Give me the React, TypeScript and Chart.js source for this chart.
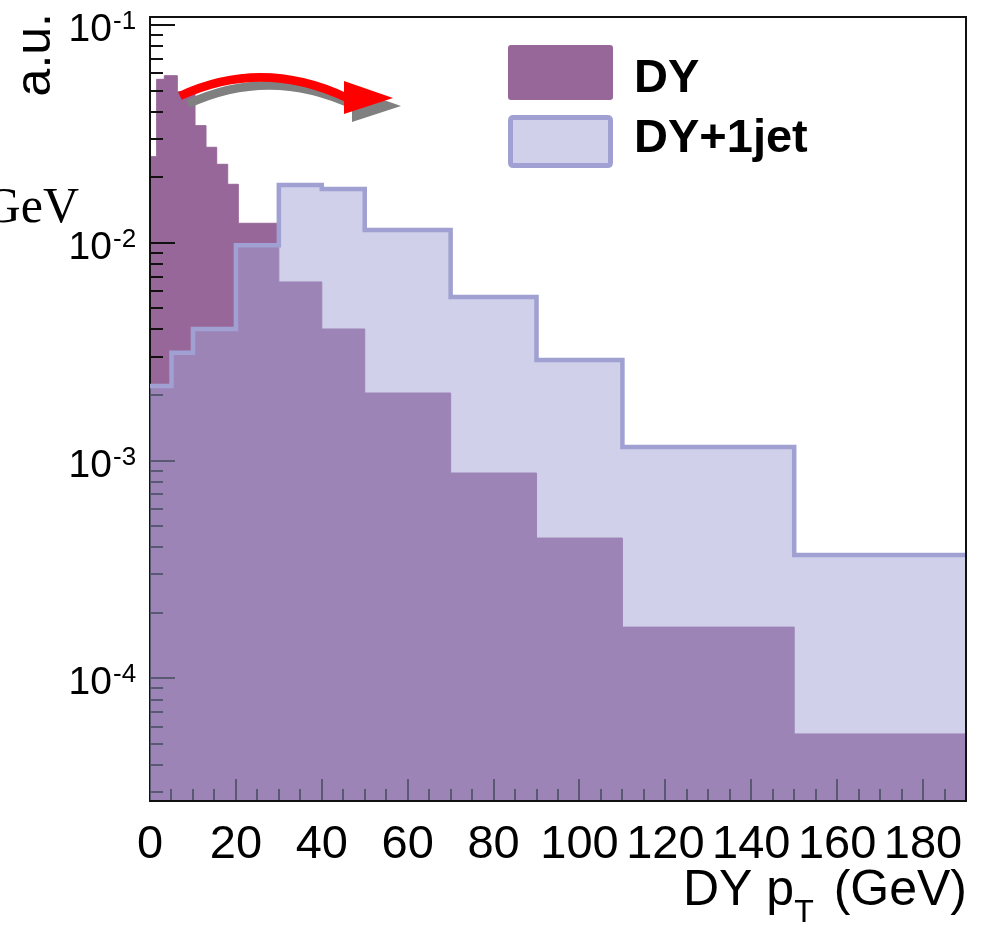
import React, { useEffect, useRef } from "react";
import { Chart, registerables } from "chart.js";

Chart.register(...registerables);

// ---------------- data ----------------
const SERIES_NAMES = ["DY", "DY+1jet"];

// DY histogram (variable bins, GeV)
const DY_BIN_EDGES = [0, 1.55, 3.33, 6.36, 10.48, 13.04, 15.53, 18.09, 20.56, 30, 40, 50, 70, 90, 110, 150, 190];
const DY_VALUES = [
  0.02485, 0.0563, 0.0585, 0.0494, 0.0345, 0.02745, 0.02293, 0.01856, 0.01229,
  0.00661, 0.00402, 0.002043, 0.000877, 0.000441, 0.000172, 0.0000556,
];

// DY+1jet histogram
const DY1J_BIN_EDGES = [0, 5, 10, 20, 30, 40, 50, 70, 90, 110, 150, 190];
const DY1J_VALUES = [0.0022, 0.00313, 0.00402, 0.00973, 0.01842, 0.01766, 0.01146, 0.00564, 0.0029, 0.001155, 0.000369];

const X_TICK_LABELS = [0, 20, 40, 60, 80, 100, 120, 140, 160, 180];
const Y_DECADE_EXPONENTS = [-1, -2, -3, -4];
const X_MIN = 0;
const X_MAX = 190;
const Y_MIN = 2.736e-5;
const Y_MAX = 0.1088;

const X_TITLE_MAIN = "DY p";
const X_TITLE_SUB = "T";
const X_TITLE_TAIL = "(GeV)";
const Y_TITLE = "a.u.";
const CUT_TEXT = "GeV";

// ---------------- style ----------------
const FONT = '"Liberation Sans", Arial, Helvetica, sans-serif';
const DY_COLOR = "#986799";
const LAVENDER = "#a0a0d2";
const LAVENDER_FILL = "rgba(162,162,214,0.5)";

function histPoints(edges: number[], values: number[]) {
  const pts = values.map((v, i) => ({ x: edges[i], y: v }));
  pts.push({ x: edges[edges.length - 1], y: values[values.length - 1] });
  return pts;
}

function roundRect(ctx: CanvasRenderingContext2D, x: number, y: number, w: number, h: number, r: number) {
  ctx.beginPath();
  ctx.moveTo(x + r, y);
  ctx.lineTo(x + w - r, y);
  ctx.quadraticCurveTo(x + w, y, x + w, y + r);
  ctx.lineTo(x + w, y + h - r);
  ctx.quadraticCurveTo(x + w, y + h, x + w - r, y + h);
  ctx.lineTo(x + r, y + h);
  ctx.quadraticCurveTo(x, y + h, x, y + h - r);
  ctx.lineTo(x, y + r);
  ctx.quadraticCurveTo(x, y, x + r, y);
  ctx.closePath();
}

function drawArrow(ctx: CanvasRenderingContext2D, dx: number, dy: number, color: string) {
  ctx.strokeStyle = color;
  ctx.fillStyle = color;
  ctx.lineWidth = 8.5;
  ctx.lineCap = "butt";
  ctx.beginPath();
  ctx.moveTo(180 + dx, 96 + dy);
  ctx.quadraticCurveTo(262 + dx, 58 + dy, 346 + dx, 97.5 + dy);
  ctx.stroke();
  ctx.beginPath();
  ctx.moveTo(344 + dx, 81 + dy);
  ctx.lineTo(393 + dx, 98 + dy);
  ctx.lineTo(344 + dx, 114 + dy);
  ctx.closePath();
  ctx.fill();
}

const rootPlugin = {
  id: "rootStyle",
  afterDatasetDraw(chart: any, args: any) {
    if (args.index !== 0) return;
    const { ctx, chartArea: a, scales } = chart;
    const xs = scales.x;
    const ys = scales.y;
    ctx.save();
    ctx.strokeStyle = "#111";
    ctx.lineWidth = 2;
    ctx.beginPath();
    const e0 = Math.floor(Math.log10(ys.min));
    const e1 = Math.ceil(Math.log10(ys.max));
    for (let e = e0; e <= e1; e++) {
      for (let m = 1; m <= 9; m++) {
        const v = m * Math.pow(10, e);
        if (v < ys.min || v > ys.max) continue;
        const p = Math.round(ys.getPixelForValue(v));
        const len = m === 1 ? 25 : 13;
        ctx.moveTo(a.left, p);
        ctx.lineTo(a.left + len, p);
      }
    }
    for (let v = X_MIN; v <= X_MAX; v += 5) {
      const p = Math.round(xs.getPixelForValue(v));
      const len = v % 20 === 0 ? 22 : 12;
      ctx.moveTo(p, a.bottom);
      ctx.lineTo(p, a.bottom - len);
    }
    // left axis line
    ctx.moveTo(a.left, a.top);
    ctx.lineTo(a.left, a.bottom);
    ctx.stroke();
    ctx.restore();
  },
  afterDraw(chart: any) {
    const { ctx, chartArea: a, scales } = chart;
    const ys = scales.y;
    ctx.save();
    // frame top/right/bottom
    ctx.strokeStyle = "#111";
    ctx.lineWidth = 2;
    ctx.beginPath();
    ctx.moveTo(a.left - 1, a.top);
    ctx.lineTo(a.right, a.top);
    ctx.lineTo(a.right, a.bottom);
    ctx.lineTo(a.left - 1, a.bottom);
    ctx.stroke();

    ctx.fillStyle = "#000";
    ctx.textBaseline = "alphabetic";
    // y tick labels 10^n
    for (const e of Y_DECADE_EXPONENTS) {
      const p = ys.getPixelForValue(Math.pow(10, e));
      ctx.font = `39px ${FONT}`;
      ctx.textAlign = "right";
      ctx.fillText("10", a.left - 38, p + 16);
      ctx.font = `26px ${FONT}`;
      ctx.textAlign = "left";
      ctx.fillText(String(e), a.left - 37, p + 4);
    }

    // x title with subscript
    const base = 905;
    ctx.textAlign = "left";
    ctx.font = `50px ${FONT}`;
    const w1 = ctx.measureText(X_TITLE_MAIN).width;
    ctx.fillText(X_TITLE_MAIN, 683, base);
    ctx.font = `32px ${FONT}`;
    ctx.fillText(X_TITLE_SUB, 683 + w1, base + 17);
    ctx.font = `50px ${FONT}`;
    ctx.textAlign = "right";
    ctx.fillText(X_TITLE_TAIL, a.right + 1, base);

    // y title
    ctx.save();
    ctx.translate(50, 13);
    ctx.rotate(-Math.PI / 2);
    ctx.font = `50px ${FONT}`;
    ctx.textAlign = "right";
    ctx.fillText(Y_TITLE, 0, 0);
    ctx.restore();

    // cut-off serif text at left
    ctx.font = `50px "Liberation Serif", "Times New Roman", serif`;
    ctx.textAlign = "right";
    ctx.fillText(CUT_TEXT, 79, 222);

    // legend
    const ds = chart.data.datasets;
    roundRect(ctx, 508, 45, 105, 55, 3);
    ctx.fillStyle = ds[0].backgroundColor;
    ctx.fill();
    roundRect(ctx, 510.5, 117.5, 100, 48, 3);
    ctx.fillStyle = ds[1].backgroundColor;
    ctx.fill();
    ctx.strokeStyle = ds[1].borderColor;
    ctx.lineWidth = 5;
    ctx.stroke();
    ctx.fillStyle = "#000";
    ctx.font = `bold 47px ${FONT}`;
    ctx.textAlign = "left";
    ctx.fillText(ds[0].label, 634, 92);
    ctx.fillText(ds[1].label, 634, 152);

    // arrow with shadow
    drawArrow(ctx, 8, 8, "#808080");
    drawArrow(ctx, 0, 0, "#ff0000");
    ctx.restore();
  },
};

export default function App() {
  const ref = useRef<HTMLCanvasElement>(null);
  useEffect(() => {
    const canvas = ref.current!;
    const chart = new Chart(canvas, {
      type: "line",
      data: {
        datasets: [
          {
            label: SERIES_NAMES[0],
            data: histPoints(DY_BIN_EDGES, DY_VALUES),
            stepped: true,
            fill: "start",
            backgroundColor: DY_COLOR,
            borderColor: DY_COLOR,
            borderWidth: 1,
            pointRadius: 0,
            order: 2,
          },
          {
            label: SERIES_NAMES[1],
            data: histPoints(DY1J_BIN_EDGES, DY1J_VALUES),
            stepped: true,
            fill: "start",
            backgroundColor: LAVENDER_FILL,
            borderColor: LAVENDER,
            borderWidth: 4.5,
            pointRadius: 0,
            order: 1,
          },
        ] as any,
      },
      options: {
        responsive: false,
        maintainAspectRatio: false,
        animation: false,
        devicePixelRatio: 1,
        layout: { padding: { top: 17, right: 15, left: 0, bottom: 0 } },
        plugins: { legend: { display: false }, tooltip: { enabled: false } },
        scales: {
          x: {
            type: "linear",
            min: X_MIN,
            max: X_MAX,
            grid: { display: false, drawTicks: false },
            border: { display: false },
            afterBuildTicks: (s: any) => {
              s.ticks = X_TICK_LABELS.map((v) => ({ value: v }));
            },
            ticks: {
              autoSkip: false,
              maxRotation: 0,
              minRotation: 0,
              includeBounds: false,
              padding: 16,
              color: "#000",
              font: { family: FONT, size: 47 },
            },
            afterFit: (s: any) => {
              s.height = 129;
            },
          },
          y: {
            type: "logarithmic",
            min: Y_MIN,
            max: Y_MAX,
            grid: { display: false, drawTicks: false },
            border: { display: false },
            ticks: { display: false },
            afterFit: (s: any) => {
              s.width = 150;
            },
          },
        },
      } as any,
      plugins: [rootPlugin],
    });
    return () => chart.destroy();
  }, []);
  return (
    <div style={{ position: "fixed", left: 0, top: 0, width: 981, height: 930, background: "#fff" }}>
      <canvas ref={ref} width={981} height={930} style={{ display: "block", width: 981, height: 930 }} />
    </div>
  );
}
